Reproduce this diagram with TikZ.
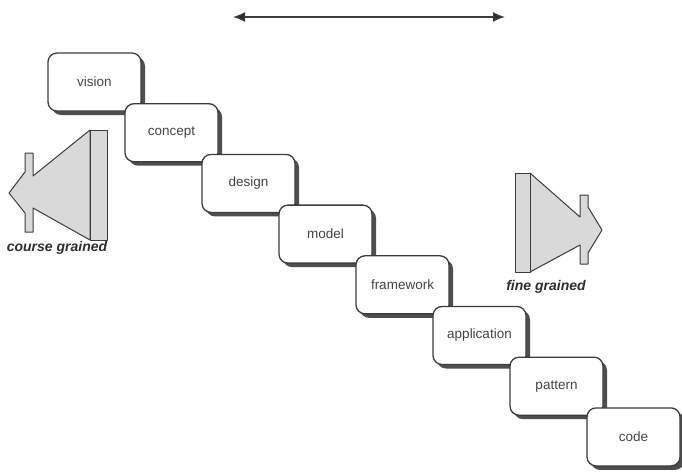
\documentclass[tikz,border=0pt]{standalone}
\usepackage{fontspec}
\setmainfont{Liberation Sans}
\usetikzlibrary{shadows,arrows.meta}
\definecolor{edge}{HTML}{3C3C3C}
\definecolor{shade}{HTML}{4E4E4E}
\definecolor{arrowfill}{HTML}{D9D9D9}
\definecolor{txt}{HTML}{444444}
\definecolor{lbl}{HTML}{2E2E2E}
\begin{document}
\begin{tikzpicture}[x=1pt,y=-1pt,
  stepbox/.style={draw=edge, line width=1.3pt, fill=white, rounded corners=9pt,
    minimum width=93pt, minimum height=58pt, inner sep=0pt, text=txt,
    font=\fontsize{13.5}{15}\selectfont,
    drop shadow={shadow xshift=4pt, shadow yshift=-4pt, fill=shade, opacity=1}},
  bigarrow/.style={draw=edge, line width=1pt, fill=arrowfill, line join=round},
  grainlabel/.style={text=lbl, font=\fontsize{14}{16}\selectfont\bfseries\itshape, inner sep=0pt},
  scale arrow/.style={draw=edge, line width=1.3pt,
    {Latex[length=12pt,width=10pt,fill=lbl]}-{Latex[length=12pt,width=10pt,fill=lbl]}}]
\useasboundingbox[fill=white] (0,0) rectangle (682,472);

% scale arrow at the top
\coordinate (ta) at (233,17);
\coordinate (tb) at (505,17);
\draw[scale arrow] (ta) -- (tb);

% coarse grained arrow (left)
\draw[bigarrow] (90,130) -- (33,176) -- (33,153) -- (25,153) -- (25,172) -- (9,193)
  -- (25,213) -- (25,232) -- (33,232) -- (33,208) -- (90,240) -- cycle;
\draw[bigarrow] (90,130) rectangle (107,240);
\node[grainlabel] (cg) at (57,248) {course grained};

% fine grained arrow (right)
\draw[bigarrow] (530,173) -- (580,217) -- (580,195) -- (588,195) -- (588,207) -- (602,230)
  -- (588,253) -- (588,264) -- (580,264) -- (580,245) -- (530,272) -- cycle;
\draw[bigarrow] (515,173) rectangle (530,272);
\node[grainlabel] (fg) at (546,287) {fine grained};

% staircase of boxes
\node[stepbox] (b1) at (94.5,82)    {vision};
\node[stepbox] (b2) at (171.5,132.7) {concept};
\node[stepbox] (b3) at (248.5,183.4) {design};
\node[stepbox] (b4) at (325.5,234.1) {model};
\node[stepbox] (b5) at (402.5,284.8) {framework};
\node[stepbox] (b6) at (479.5,335.5) {application};
\node[stepbox] (b7) at (556.5,386.2) {pattern};
\node[stepbox] (b8) at (633.5,436.9) {code};
\end{tikzpicture}
\end{document}
